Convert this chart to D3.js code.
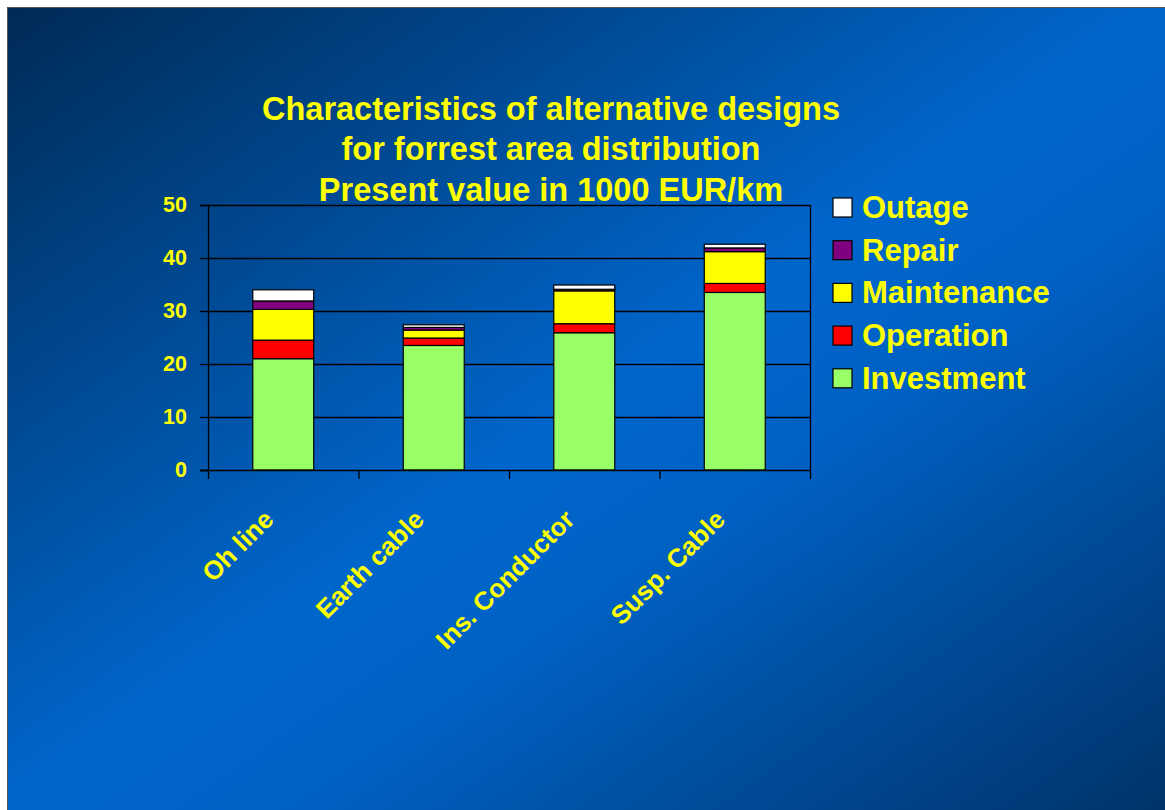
<!DOCTYPE html>
<html>
<head>
<meta charset="utf-8">
<script src="https://cdn.jsdelivr.net/npm/d3@7.9.0/dist/d3.min.js"></script>
<style>
  html, body { margin: 0; padding: 0; background: #fff; }
  svg { display: block; }
  text { font-family: Arial, "Liberation Sans", sans-serif; font-weight: bold; fill: #ffff00; }
</style>
</head>
<body>
<svg id="chart" width="1165" height="810"></svg>
<script>
// data (1000 EUR/km)
const designs = ["Oh line", "Earth cable", "Ins. Conductor", "Susp. Cable"];
const seriesNames = ["Investment", "Operation", "Maintenance", "Repair", "Outage"];
const investment  = [21.0, 23.5, 25.9, 33.5];
const operation   = [3.5, 1.4, 1.7, 1.7];
const maintenance = [5.8, 1.5, 6.2, 6.0];
const repair      = [1.6, 0.5, 0.3, 0.7];
const outage      = [2.1, 0.5, 0.8, 0.7];
const yTicks = [0, 10, 20, 30, 40, 50];
const titleLines = ["Characteristics of alternative designs", "for forrest area distribution", "Present value in 1000 EUR/km"];

const colors = d3.scaleOrdinal()
    .domain(seriesNames)
    .range(["#99ff66", "#ff0000", "#ffff00", "#800080", "#ffffff"]);

const svg = d3.select("#chart");

// slide background
const defs = svg.append("defs");
const grad = defs.append("linearGradient")
    .attr("id", "bg")
    .attr("x1", 0).attr("y1", 0).attr("x2", 1).attr("y2", 1);
grad.append("stop").attr("offset", 0).attr("stop-color", "#002a55");
grad.append("stop").attr("offset", 0.5).attr("stop-color", "#0066cc");
grad.append("stop").attr("offset", 0.62).attr("stop-color", "#0061c4");
grad.append("stop").attr("offset", 1).attr("stop-color", "#00336a");

svg.append("rect")
    .attr("x", 7).attr("y", 7)
    .attr("width", 1158).attr("height", 803)
    .attr("fill", "url(#bg)");
svg.append("path")
    .attr("d", "M7.5,810V7.5H1165")
    .attr("fill", "none")
    .attr("stroke", "#555")
    .attr("stroke-width", 1);

// title
svg.append("g").selectAll("text")
    .data(titleLines)
    .join("text")
    .attr("x", 551)
    .attr("y", (d, i) => 119.5 + i * 40.5)
    .attr("text-anchor", "middle")
    .attr("font-size", 32.5)
    .text(d => d);

// plot area
const plotL = 208, plotR = 810, plotT = 205, plotB = 470;
const x = d3.scaleBand().domain(designs).range([plotL, plotR]).paddingInner(0).paddingOuter(0);
const y = d3.scaleLinear().domain([0, 50]).range([plotB, plotT]);

// gridlines
svg.append("g").selectAll("line")
    .data(yTicks.slice(1))
    .join("line")
    .attr("x1", plotL).attr("x2", plotR)
    .attr("y1", d => y(d) + 0.5).attr("y2", d => y(d) + 0.5)
    .attr("stroke", "#000").attr("stroke-width", 1.3);
svg.append("line")
    .attr("x1", plotR + 0.5).attr("x2", plotR + 0.5)
    .attr("y1", plotT).attr("y2", plotB)
    .attr("stroke", "#000").attr("stroke-width", 1.3);

// stacked bars
const rows = designs.map((d, i) => ({
  design: d,
  Investment: investment[i],
  Operation: operation[i],
  Maintenance: maintenance[i],
  Repair: repair[i],
  Outage: outage[i]
}));
const stacked = d3.stack().keys(seriesNames)(rows);
const barW = x.bandwidth() * 0.405;

svg.append("g").selectAll("g")
    .data(stacked)
    .join("g")
    .attr("fill", d => colors(d.key))
    .selectAll("rect")
    .data(d => d)
    .join("rect")
    .attr("x", d => x(d.data.design) + (x.bandwidth() - barW) / 2)
    .attr("y", d => y(d[1]))
    .attr("width", barW)
    .attr("height", d => y(d[0]) - y(d[1]))
    .attr("stroke", "#000")
    .attr("stroke-width", 1.2);

// y axis
const yAxis = svg.append("g")
    .attr("transform", `translate(${plotL},0)`)
    .call(d3.axisLeft(y).tickValues(yTicks).tickSize(8).tickPadding(13));
yAxis.select(".domain").attr("stroke", "#000").attr("stroke-width", 1.3);
yAxis.selectAll(".tick line").attr("stroke", "#000").attr("stroke-width", 1.3);
yAxis.selectAll("text").attr("font-size", 21.5).attr("fill", "#ffff00")
    .attr("font-family", "Arial, 'Liberation Sans', sans-serif").attr("font-weight", "bold");

// x axis line with ticks at category boundaries
const xAxis = svg.append("g").attr("transform", `translate(0,${plotB})`);
xAxis.append("line")
    .attr("x1", plotL - 8).attr("x2", plotR)
    .attr("y1", 0.5).attr("y2", 0.5)
    .attr("stroke", "#000").attr("stroke-width", 1.3);
const bounds = designs.map(d => x(d)).concat([plotR]);
xAxis.selectAll("line.tk")
    .data(bounds)
    .join("line")
    .attr("class", "tk")
    .attr("x1", d => d + 0.5).attr("x2", d => d + 0.5)
    .attr("y1", 0).attr("y2", 9)
    .attr("stroke", "#000").attr("stroke-width", 1.3);
xAxis.selectAll("text")
    .data(designs)
    .join("text")
    .attr("transform", d => `translate(${x(d) + x.bandwidth() / 2 - 8},${51}) rotate(-45)`)
    .attr("text-anchor", "end")
    .attr("font-size", 26)
    .text(d => d);

// legend
const legendNames = seriesNames.slice().reverse();
const lg = svg.append("g").selectAll("g")
    .data(legendNames)
    .join("g")
    .attr("transform", (d, i) => `translate(833,${207.5 + i * 42.7})`);
lg.append("rect")
    .attr("x", 0).attr("y", -9.5)
    .attr("width", 19).attr("height", 19)
    .attr("fill", d => colors(d))
    .attr("stroke", "#000").attr("stroke-width", 1.2);
lg.append("text")
    .attr("x", 29).attr("y", 10.5)
    .attr("font-size", 31)
    .text(d => d);
</script>
</body>
</html>
